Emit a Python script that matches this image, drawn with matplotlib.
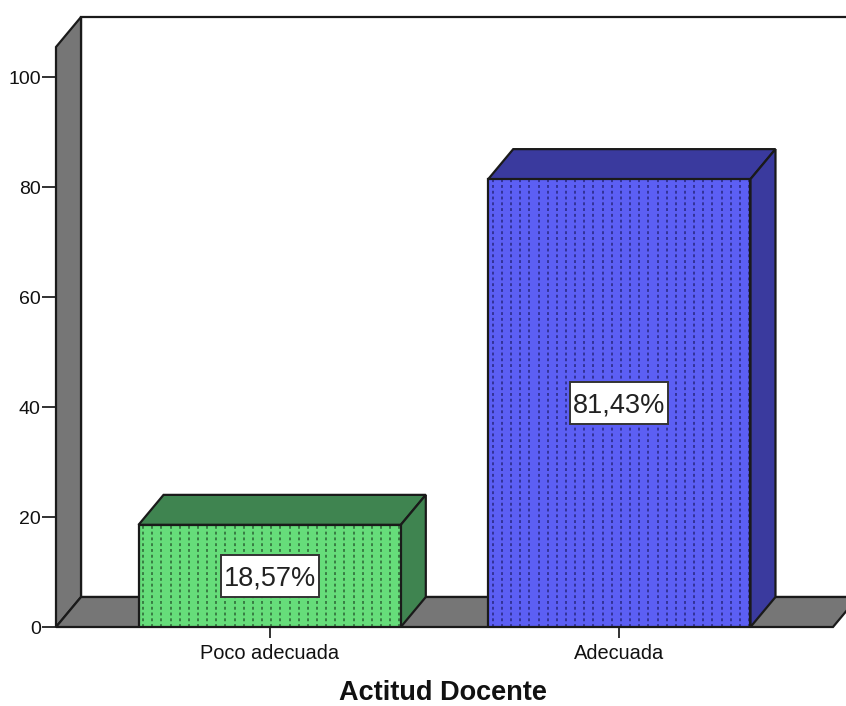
import numpy as np
import matplotlib.pyplot as plt
from matplotlib.patches import Polygon, Rectangle

categories = ["Poco adecuada", "Adecuada"]
values = [18.57, 81.43]
labels = ["18,57%", "81,43%"]
yticks = [0, 20, 40, 60, 80, 100]
xlabel = "Actitud Docente"

face = ["#66dd7a", "#5c5ff4"]
side = ["#3f8450", "#3a3a9e"]
dots = ["#35753f", "#2f2f90"]

W, H = 846, 706
plt.rcParams["font.family"] = ["Liberation Sans", "DejaVu Sans"]

fig = plt.figure(figsize=(W / 100, H / 100), dpi=100)
# front plane of the 3D box, in pixels: x 56-833, y 47-627
ax = fig.add_axes([56 / W, 1 - 627 / H, (833 - 56) / W, (627 - 47) / H])
ax.set_xlim(-0.611, 1.611)
ax.set_ylim(0, 580 / 5.5)
ax.patch.set_visible(False)
for s in ax.spines.values():
    s.set_visible(False)

dx = 25 / 349.5
dy = 30 / 5.5
x0, x1 = ax.get_xlim()
y1 = ax.get_ylim()[1]
gray = "#767676"
edge = "#1a1a1a"
lw = 1.6

# back wall, left wall, floor
ax.add_patch(Polygon([(x0 + dx, dy), (x1 + dx, dy), (x1 + dx, y1 + dy), (x0 + dx, y1 + dy)],
                     fc="white", ec=edge, lw=lw, clip_on=False, zorder=1))
ax.add_patch(Polygon([(x0, 0), (x0 + dx, dy), (x0 + dx, y1 + dy), (x0, y1)],
                     fc=gray, ec=edge, lw=lw, clip_on=False, zorder=2))
ax.add_patch(Polygon([(x0, 0), (x1, 0), (x1 + dx, dy), (x0 + dx, dy)],
                     fc=gray, ec=edge, lw=lw, clip_on=False, zorder=2))

bw = 0.75
for i, v in enumerate(values):
    l, r = i - bw / 2, i + bw / 2
    ax.add_patch(Polygon([(l, v), (r, v), (r + dx, v + dy), (l + dx, v + dy)],
                         fc=side[i], ec=edge, lw=lw, zorder=3))
    ax.add_patch(Polygon([(r, 0), (r + dx, dy), (r + dx, v + dy), (r, v)],
                         fc=side[i], ec=edge, lw=lw, zorder=3))
    front = Rectangle((l, 0), bw, v, fc=face[i], ec="none", zorder=3)
    ax.add_patch(front)
    # dotted fill pattern
    for xp in np.arange(l + 0.013, r, 9.15 / 349.5):
        ln, = ax.plot([xp, xp], [0, v], color=dots[i], lw=1.3,
                      dashes=(1.6, 1.6), dash_capstyle="butt", zorder=3.1)
        ln.set_clip_path(front)
    ax.add_patch(Rectangle((l, 0), bw, v, fc="none", ec=edge, lw=lw, zorder=3.2))
    # white value box
    bx, by = 98 / 349.5, 42 / 5.5
    ax.add_patch(Rectangle((i - bx / 2, v / 2 - by / 2), bx, by, fc="white", ec="#333333", lw=1.4, zorder=4))
    ax.annotate(labels[i], (i, v / 2), xytext=(0, -1.5), textcoords="offset points",
                ha="center", va="center", fontsize=19.5, color="#222222", zorder=5)

ax.set_xticks([0, 1], categories)
ax.set_yticks(yticks)
ax.tick_params(axis="x", length=8, width=1.3, labelsize=14.4, pad=4, color="#222222", labelcolor="#111111")
ax.tick_params(axis="y", length=10, width=1.3, labelsize=14, pad=1, color="#222222", labelcolor="#111111")
fig.text(443 / W, 1 - 693 / H, xlabel, ha="center", va="center", fontsize=19.5, fontweight="bold", color="#111111")

fig.savefig("out.png", dpi=100)
